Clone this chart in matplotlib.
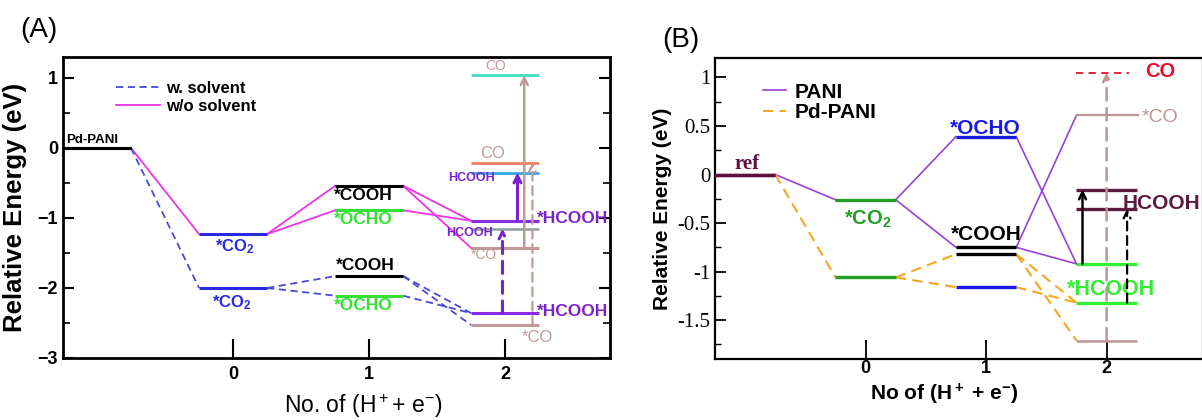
import matplotlib
matplotlib.use("Agg")
import matplotlib.pyplot as plt
from matplotlib.ticker import MultipleLocator

plt.rcParams["font.family"] = ["Liberation Sans", "DejaVu Sans"]
plt.rcParams["mathtext.default"] = "regular"

# species at each step: ref, *CO2, *COOH, *OCHO, *HCOOH, *CO
SPECIES_STEP = [-1, 0, 1, 1, 2, 2]
PATHS = [(0, 1), (1, 2), (1, 3), (2, 4), (2, 5), (3, 4)]

# panel A energies (eV)
A_WO = [0.0, -1.23, -0.54, -0.89, -1.04, -1.43]   # w/o solvent
A_W = [0.0, -2.00, -1.83, -2.11, -2.36, -2.53]    # w. solvent
A_GAS_HCOOH = [-1.15, -0.35]   # w., w/o
A_GAS_CO = [-0.21, 1.04]       # w., w/o

# panel B energies (eV)
B_PANI = [0.0, -0.26, -0.75, 0.39, -0.92, 0.61]
B_PD = [0.0, -1.06, -0.82, -1.16, -1.32, -1.71]
B_GAS_HCOOH = [-0.155, -0.355]  # PANI, Pd-PANI
B_GAS_CO = 1.05

HW = 0.25


def level(ax, step, e, color, lw, x0=None, x1=None, ls="-"):
    x0 = step - HW if x0 is None else x0
    x1 = step + HW if x1 is None else x1
    if step == -1:
        x0 = -1.3
    ax.plot([x0, x1], [e, e], color=color, lw=lw, ls=ls, solid_capstyle="butt", zorder=3)


def connect(ax, energies, color, ls, lw, label):
    first = True
    for i, j in PATHS:
        ax.plot([SPECIES_STEP[i] + HW, SPECIES_STEP[j] - HW], [energies[i], energies[j]],
                color=color, ls=ls, lw=lw, label=label if first else None, zorder=2)
        first = False


def arrow(ax, x, y0, y1, color, ls="-", lw=1.8):
    ax.annotate("", xy=(x, y1), xytext=(x, y0),
                arrowprops=dict(arrowstyle="->,head_length=0.5,head_width=0.25",
                                color=color, lw=lw, ls=ls, shrinkA=0, shrinkB=0), zorder=4)


fig = plt.figure(figsize=(12.02, 4.2), dpi=100)

# ---------------- panel A ----------------
axA = fig.add_axes([63 / 1202, 62 / 420, 547 / 1202, 301 / 420])
connect(axA, A_WO, "#ee33e6", "-", 1.3, "w/o solvent")
connect(axA, A_W, "#4a4ad6", (0, (4, 2.5)), 1.3, "w. solvent")

colA = ["black", "#2a2ae0", "black", "#33e033", "#8a2be2", "#c09a98"]
for k, st in enumerate(SPECIES_STEP):
    level(axA, st, A_WO[k], colA[k], 2.2)
    level(axA, st, A_W[k], colA[k], 2.2)

level(axA, 2, A_GAS_HCOOH[0], "#8e9e9e", 1.8)
level(axA, 2, A_GAS_HCOOH[1], "#3aa6e0", 2.0)
level(axA, 2, A_GAS_CO[0], "#f08060", 2.0)
level(axA, 2, A_GAS_CO[1], "#40dcc0", 2.0)

arrow(axA, 2.09, A_WO[4], A_GAS_HCOOH[1], "#7a22d0", lw=2.2)
arrow(axA, 1.98, A_W[4], A_GAS_HCOOH[0], "#7a22d0", ls=(0, (4, 2.5)), lw=2.2)
arrow(axA, 2.20, A_W[5], A_GAS_CO[0], "#c09a98", ls=(0, (4, 2.5)), lw=1.6)
arrow(axA, 2.14, A_WO[5], A_GAS_CO[1], "#c09a98", lw=1.8)

bold = dict(fontweight="bold")
axA.text(-1.23, 0.03, "Pd-PANI", fontsize=9.5, ha="left", va="bottom", **bold)
axA.text(0.01, -1.27, "*CO$_2$", color="#2a2ae0", fontsize=12, ha="center", va="top", **bold)
axA.text(-0.01, -2.07, "*CO$_2$", color="#2a2ae0", fontsize=12, ha="center", va="top", **bold)
axA.text(0.96, -0.57, "*COOH", fontsize=12.5, ha="center", va="top", **bold)
axA.text(0.955, -0.91, "*OCHO", color="#33e033", fontsize=12.5, ha="center", va="top", **bold)
axA.text(0.97, -1.78, "*COOH", fontsize=12.5, ha="center", va="bottom", **bold)
axA.text(0.955, -2.14, "*OCHO", color="#33e033", fontsize=12.5, ha="center", va="top", **bold)
axA.text(1.93, 1.07, "CO", color="#c09a98", fontsize=10, ha="center", va="bottom")
axA.text(1.91, -0.19, "CO", color="#c09a98", fontsize=12, ha="center", va="bottom")
axA.text(1.75, -0.43, "HCOOH", color="#7a22d0", fontsize=9, ha="center", va="center", **bold)
axA.text(1.735, -1.22, "HCOOH", color="#7a22d0", fontsize=9, ha="center", va="center", **bold)
axA.text(1.84, -1.53, "*CO", color="#c09a98", fontsize=10, ha="center", va="center")
axA.text(2.235, -1.01, "*HCOOH", color="#7a22d0", fontsize=12.5, ha="left", va="center", **bold)
axA.text(2.235, -2.34, "*HCOOH", color="#7a22d0", fontsize=12.5, ha="left", va="center", **bold)
axA.text(2.12, -2.70, "*CO", color="#c09a98", fontsize=12, ha="left", va="center")

axA.set_xlim(-1.25, 2.77)
axA.set_ylim(-3, 1.3)
axA.set_xticks([0, 1, 2])
axA.yaxis.set_major_locator(MultipleLocator(1))
axA.yaxis.set_minor_locator(MultipleLocator(0.5))
axA.tick_params(axis="x", direction="in", length=14, width=1.5, labelsize=13, pad=6)
axA.tick_params(axis="y", which="major", direction="in", length=8, width=1.5, labelsize=13,
                right=True)
axA.tick_params(axis="y", which="minor", direction="in", length=5, width=1.2, right=True)
for lab in axA.get_xticklabels() + axA.get_yticklabels():
    lab.set_fontweight("bold")
for sp in axA.spines.values():
    sp.set_linewidth(2)
axA.set_ylabel("Relative Energy (eV)", fontsize=18.5, fontweight="bold", labelpad=8)
axA.set_xlabel("No. of (H$^+$+ e$^{-}$)", fontsize=16.5)
axA.xaxis.set_label_coords(0.55, -0.112)
handles, labels = axA.get_legend_handles_labels()
axA.legend(handles[::-1], labels[::-1], loc="upper left", bbox_to_anchor=(0.07, 0.97),
           frameon=False, prop=dict(weight="bold", size=12), handlelength=2.6,
           handletextpad=0.4, labelspacing=0.15)
fig.text(20 / 1202, 1 - 30 / 420, "(A)", fontsize=20, va="center", ha="left")

# ---------------- panel B ----------------
axB = fig.add_axes([715 / 1202, 61 / 420, 488 / 1202, 301 / 420])
connect(axB, B_PANI, "#9b40d8", "-", 1.2, "PANI")
connect(axB, B_PD, "#f5a623", (0, (5, 3)), 1.5, "Pd-PANI")

colB = ["#5e1040", "#23a023", "black", "#1a1ae6", "#33ee33", "#bb9595"]
for k, st in enumerate(SPECIES_STEP):
    if k == 5:
        level(axB, st, B_PANI[k], colB[k], 1.6, x1=2.27)
        level(axB, st, B_PD[k], colB[k], 1.8)
    else:
        level(axB, st, B_PANI[k], colB[k], 2.4)
        level(axB, st, B_PD[k], colB[k], 2.4)

level(axB, 2, B_GAS_HCOOH[0], "#5c1a40", 2.4)
level(axB, 2, B_GAS_HCOOH[1], "#5c1a40", 2.4)
level(axB, 2, B_GAS_CO, "#e8102a", 1.3, x1=2.19, ls=(0, (4, 3)))

arrow(axB, 2.0, B_PD[5], B_GAS_CO, "#bb9595", ls=(0, (5, 3)), lw=1.8)
arrow(axB, 1.80, B_PANI[4], B_GAS_HCOOH[0], "black", lw=1.8)
arrow(axB, 2.17, B_PD[4], B_GAS_HCOOH[1], "black", ls=(0, (4, 2.5)), lw=1.6)

axB.text(-0.98, 0.01, "ref", color="#5e1040", fontsize=15, ha="center", va="bottom",
         family="Liberation Serif", **bold)
axB.text(0.02, -0.35, "*CO$_2$", color="#23a023", fontsize=14.5, ha="center", va="top", **bold)
axB.text(0.99, 0.38, "*OCHO", color="#1a1ae6", fontsize=15, ha="center", va="bottom", **bold)
axB.text(1.0, -0.72, "*COOH", color="black", fontsize=15, ha="center", va="bottom", **bold)
axB.text(2.04, -1.18, "*HCOOH", color="#33ee33", fontsize=15.5, ha="center", va="center", **bold)
axB.text(2.13, -0.30, "HCOOH", color="#5c1a40", fontsize=15, ha="left", va="center", **bold)
axB.text(2.32, 1.06, "CO", color="#e8102a", fontsize=14.5, ha="left", va="center", **bold)
axB.text(2.29, 0.59, "*CO", color="#bb9595", fontsize=14, ha="left", va="center")

axB.set_xlim(-1.25, 2.8)
axB.set_ylim(-1.9, 1.2)
axB.set_xticks([0, 1, 2])
axB.yaxis.set_major_locator(MultipleLocator(0.5))
axB.yaxis.set_minor_locator(MultipleLocator(0.25))
axB.set_yticks([-1.5, -1, -0.5, 0, 0.5, 1])
axB.set_yticklabels(["-1.5", "-1", "-0.5", "0", "0.5", "1"], family="Liberation Serif")
axB.tick_params(axis="x", direction="in", length=14, width=1.3, labelsize=13, pad=1)
axB.tick_params(axis="y", which="major", direction="in", length=8, width=1.3, labelsize=15)
axB.tick_params(axis="y", which="minor", direction="in", length=4, width=1.0)
for lab in axB.get_xticklabels():
    lab.set_fontweight("bold")
for sp in axB.spines.values():
    sp.set_linewidth(1.6)
axB.set_ylabel("Relative Energy (eV)", fontsize=15, fontweight="bold", labelpad=4)
axB.set_xlabel("No of (H$^+$ + e$^{-}$)", fontsize=15, fontweight="bold")
axB.xaxis.set_label_coords(0.47, -0.075)
axB.legend(loc="upper left", bbox_to_anchor=(0.06, 0.98), frameon=False,
           prop=dict(weight="bold", size=15), handlelength=1.1, handletextpad=0.4,
           labelspacing=0.05)
fig.text(662 / 1202, 1 - 40 / 420, "(B)", fontsize=20, va="center", ha="left")

fig.savefig("out.png", dpi=100)
